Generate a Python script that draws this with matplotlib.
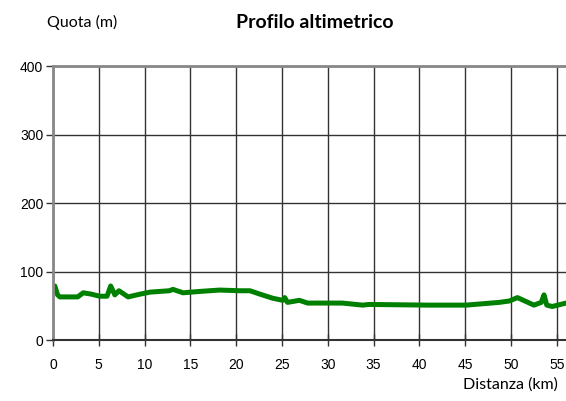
import numpy as np
import matplotlib.pyplot as plt

# distance (km) and elevation (m)
dist_km = [0.2, 0.5, 0.75, 1.5, 2.7, 3.3, 4.2, 5.1, 5.9, 6.3, 6.75, 7.2, 8.2, 9.5,
           10.6, 12.7, 13.1, 14.2, 16.0, 18.2, 20.4, 21.5, 22.6, 24.0, 25.1, 25.3,
           25.6, 26.9, 27.8, 31.6, 33.8, 34.5, 41.0, 45.1, 48.7, 49.8, 50.7, 52.5,
           53.3, 53.6, 53.9, 54.5, 56.0]
quota_m = [79, 66, 63, 63, 63, 69, 67, 64, 64, 79, 66, 72, 63, 67,
           70, 72, 74, 69, 71, 73, 72, 72, 67, 61, 58, 62,
           55, 58, 54, 54, 51, 52, 51, 51, 55, 57, 62, 51,
           55, 66, 51, 49, 54]

x_ticks = np.arange(0, 56, 5)
y_ticks = [0, 100, 200, 300, 400]

fig = plt.figure(figsize=(5.66, 4.01), dpi=100)
ax = fig.add_axes([0.0936, 0.152, 0.9064, 0.683])

ax.plot(dist_km, quota_m, color='#008000', linewidth=3.6, solid_capstyle='round',
        solid_joinstyle='round')

ax.set_xlim(0, 56)
ax.set_ylim(0, 400)
ax.set_xticks(x_ticks)
ax.set_yticks(y_ticks)
ax.grid(True, color='#333333', linewidth=1.0)
ax.set_axisbelow(True)

ax.spines['right'].set_visible(False)
ax.spines['top'].set_color('#888888')
ax.spines['top'].set_linewidth(2)
ax.spines['left'].set_color('#888888')
ax.spines['left'].set_linewidth(2)
ax.spines['bottom'].set_color('#333333')
ax.spines['bottom'].set_linewidth(1.5)

ax.tick_params(axis='x', direction='inout', length=8, width=1, color='#333333',
               labelsize=10, pad=9)
ax.tick_params(axis='y', direction='out', length=5, width=1, color='#333333',
               labelsize=10, pad=2)
for lab in ax.get_xticklabels() + ax.get_yticklabels():
    lab.set_fontfamily('Liberation Sans')

fig.text(0.5565, 0.943, 'Profilo altimetrico', ha='center', va='center',
         fontsize=14, fontweight='bold', family='Lato')
fig.text(0.083, 0.945, 'Quota (m)', ha='left', va='center', fontsize=11.5, family='Lato')
fig.text(0.985, 0.04, 'Distanza (km)', ha='right', va='center', fontsize=11.5, family='Lato')

fig.savefig('out.png', dpi=100)
